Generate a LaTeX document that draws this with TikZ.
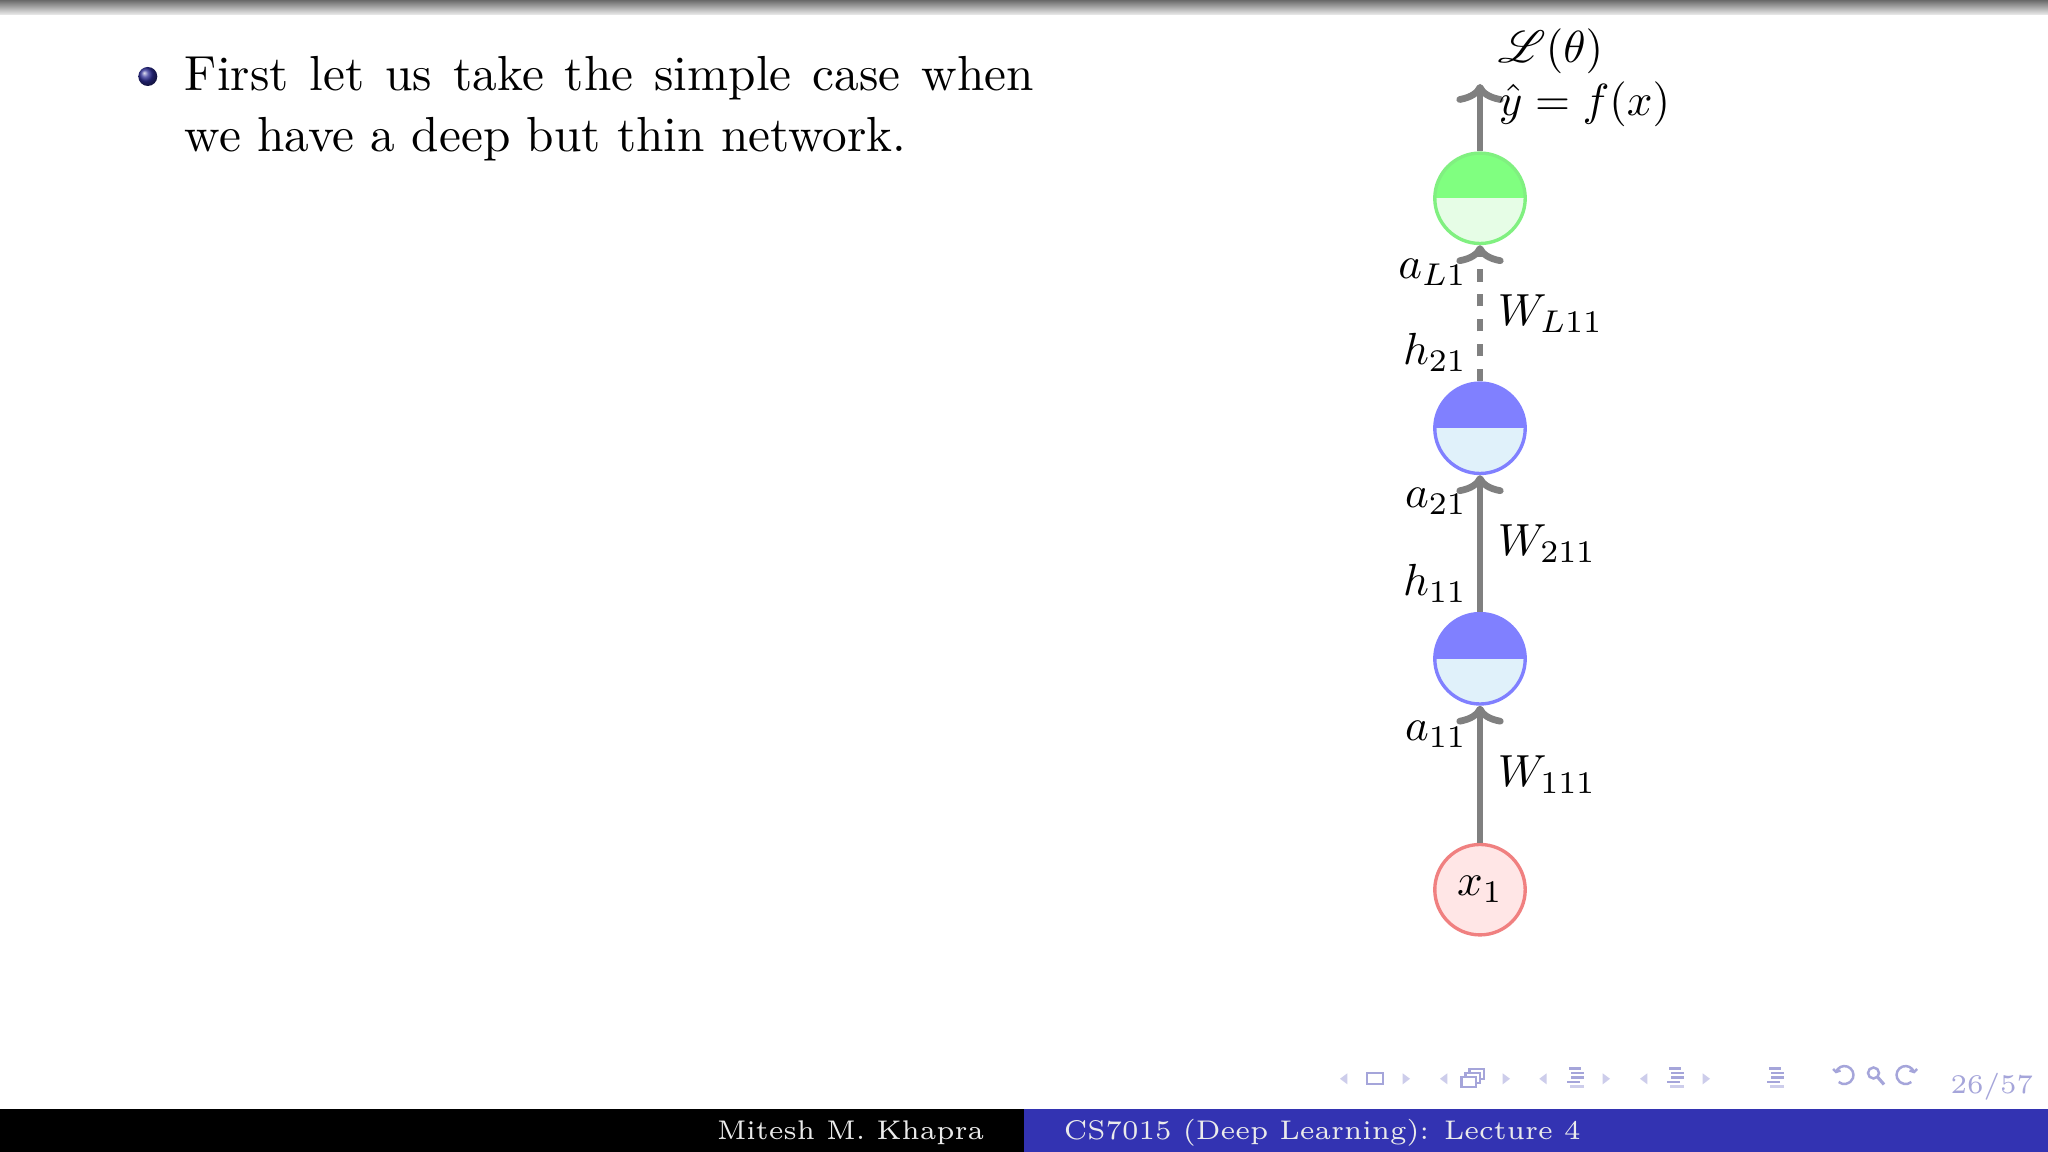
\documentclass[tikz,border=0pt]{standalone}
\usepackage{mathrsfs}
\usetikzlibrary{arrows.meta}
\definecolor{edgegray}{RGB}{128,128,128}
\definecolor{hidtop}{RGB}{128,128,255}
\definecolor{hidbot}{RGB}{224,241,250}
\definecolor{outtop}{RGB}{128,255,128}
\definecolor{outbot}{RGB}{230,253,230}
\definecolor{outdraw}{RGB}{128,240,128}
\definecolor{inpfill}{RGB}{255,230,230}
\definecolor{inpdraw}{RGB}{240,128,128}
\definecolor{barblue}{RGB}{51,51,178}
\definecolor{navc}{RGB}{165,165,218}
\definecolor{navl}{RGB}{205,205,235}
\definecolor{ballc}{RGB}{45,45,150}
\definecolor{footw}{RGB}{235,235,235}
\begin{document}
\begin{tikzpicture}[x=0.22228pt,y=-0.22228pt,
  neuron/.style={circle, minimum size=20.1pt, inner sep=0pt, line width=0.75pt},
  hidden/.style={neuron, draw=hidtop, fill=hidbot,
    path picture={\fill[hidtop] (path picture bounding box.west) rectangle (path picture bounding box.north east);}},
  outneuron/.style={neuron, draw=outdraw, fill=outbot,
    path picture={\fill[outtop] (path picture bounding box.west) rectangle (path picture bounding box.north east);}},
  inneuron/.style={neuron, draw=inpdraw, fill=inpfill},
  conn/.style={draw=edgegray, line width=1.5pt, -{To[length=4.2pt,width=10.5pt]}},
  lbl/.style={inner sep=0pt, font=\fontsize{10}{12}\selectfont},
  body/.style={inner sep=0pt, anchor=base west, font=\fontsize{10.95}{13.6}\selectfont},
  foot/.style={inner sep=0pt, font=\fontsize{6}{7}\selectfont},
  ltri/.style={fill=navl},
  navline/.style={draw=navc, line width=0.45pt},
]
\useasboundingbox (0,0) rectangle (2048,1152);
\fill[white] (0,0) rectangle (2048,1152);
% top bar
\shade[top color={rgb,255:red,105;green,105;blue,105}, bottom color={rgb,255:red,238;green,238;blue,238}] (0,0) rectangle (2048,15);

% bullet text
\shade[ball color=ballc] (147.8,76.5) circle (9.5);
\node[body] (line1) at (184,91) {\makebox[188.7pt][s]{First let us take the simple case when}};
\node[body] (line2) at (184,151.5) {we have a deep but thin network.};

% network
\node[inneuron] (x1) at (1480,889.7) {\fontsize{10}{12}\selectfont$x_1$};
\node[hidden] (h1) at (1480,658.8) {};
\node[hidden] (h2) at (1480,428.3) {};
\node[outneuron] (out) at (1480,198.3) {};
\coordinate (ytop) at (1480,84);

\draw[conn] (x1) -- (h1);
\draw[conn] (h1) -- (h2);
\draw[conn, dash pattern=on 2.7pt off 2.85pt] (h2) -- (out);
\draw[conn] (out) -- (ytop);

\node[lbl, anchor=base east] (a11) at (1468,741) {$a_{11}$};
\node[lbl, anchor=base west] (w111) at (1497,787) {$W_{111}$};
\node[lbl, anchor=base east] (h11) at (1468,596) {$h_{11}$};
\node[lbl, anchor=base east] (a21) at (1468,508) {$a_{21}$};
\node[lbl, anchor=base west] (w211) at (1497,556) {$W_{211}$};
\node[lbl, anchor=base east] (h21) at (1468,365) {$h_{21}$};
\node[lbl, anchor=base east] (aL1) at (1468,279) {$a_{L1}$};
\node[lbl, anchor=base west] (wL11) at (1497,326) {$W_{L11}$};
\node[lbl, anchor=base west] (yhat) at (1498,116) {$\hat{y} = f(x)$};
\node[lbl, anchor=base west] (loss) at (1497,63) {$\mathscr{L}(\theta)$};

% footline
\fill[black] (0,1109) rectangle (1024,1152);
\fill[barblue] (1024,1109) rectangle (2048,1152);
\node[foot, anchor=base east, text=footw] (author) at (985,1139.3) {Mitesh M. Khapra};
\node[foot, anchor=base west, text=footw] (title) at (1063,1139.3) {CS7015 (Deep Learning): Lecture 4};

% navigation symbols
\foreach \xx in {1340,1440,1539.3,1640} {
  \fill[ltri] (\xx+7.3,1073.3) -- (\xx,1078.8) -- (\xx+7.3,1084.3) -- cycle;
}
\foreach \xx in {1402.7,1502.7,1602.7,1702.7} {
  \fill[ltri] (\xx,1073.3) -- (\xx+7.3,1078.8) -- (\xx,1084.3) -- cycle;
}
\draw[navc, line width=0.5pt] (1367,1072.8) rectangle (1383,1084);
\filldraw[fill=white, draw=navc, line width=0.5pt] (1469.5,1069) rectangle (1484,1079);
\filldraw[fill=white, draw=navc, line width=0.5pt] (1465.5,1073) rectangle (1480,1083);
\filldraw[fill=white, draw=navc, line width=0.5pt] (1461.5,1077) rectangle (1476,1087.3);
\foreach \xx in {1566,1666,1766} {
  \draw[navline] (\xx+3,1068.5) -- (\xx+15,1068.5);
  \draw[navline] (\xx+5,1073) -- (\xx+18,1073);
  \draw[navline] (\xx+5,1077.5) -- (\xx+18,1077.5);
  \draw[navline] (\xx+1,1082) -- (\xx+14,1082);
  \draw[navline, draw=navl] (\xx+4,1086.5) -- (\xx+18,1086.5);
}
% undo / search / redo
\draw[navc, line width=0.55pt] (1836,1072) arc[start angle=160, end angle=-130, x radius=9, y radius=-9];
\draw[navc, line width=0.55pt] (1833,1069) -- (1836,1072) -- (1840.5,1070.5);
\draw[navc, line width=0.55pt] (1873.5,1073) circle (5.5);
\draw[navc, line width=0.7pt] (1877.5,1077) -- (1884,1084.5);
\draw[navc, line width=0.55pt] (1914,1072) arc[start angle=20, end angle=310, x radius=9, y radius=-9];
\draw[navc, line width=0.55pt] (1917,1069) -- (1914,1072) -- (1909.5,1070.5);
\node[foot, anchor=base east, text=navc] (page) at (2034,1093.3) {26/57};
\end{tikzpicture}
\end{document}
